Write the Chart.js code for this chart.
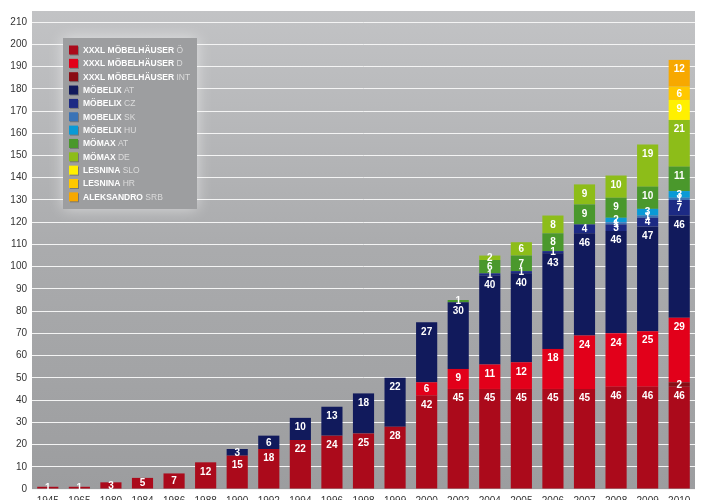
<!DOCTYPE html>
<html>
<head>
<meta charset="utf-8">
<script src="https://cdn.jsdelivr.net/npm/chart.js@4.4.1/dist/chart.umd.min.js"></script>
<style>
  html, body { margin: 0; padding: 0; background: #fff; overflow: hidden; }
  #wrap { width: 702px; height: 500px; }
</style>
</head>
<body>
<div id="wrap"><canvas id="chart"></canvas></div>
<script>
const years = ['1945', '1965', '1980', '1984', '1986', '1988', '1990', '1992', '1994', '1996', '1998',
  '1999', '2000', '2002', '2004', '2005', '2006', '2007', '2008', '2009', '2010'];

const _ = null;
// stacking order, bottom to top
const xxxlOe = [1, 1, 3, 5, 7, 12, 15, 18, 22, 24, 25, 28, 42, 45, 45, 45, 45, 45, 46, 46, 46];
const xxxlInt = [_, _, _, _, _, _, _, _, _, _, _, _, _, _, _, _, _, _, _, _, 2];
const xxxlD = [_, _, _, _, _, _, _, _, _, _, _, _, 6, 9, 11, 12, 18, 24, 24, 25, 29];
const moebelixAt = [_, _, _, _, _, _, 3, 6, 10, 13, 18, 22, 27, 30, 40, 40, 43, 46, 46, 47, 46];
const moebelixCz = [_, _, _, _, _, _, _, _, _, _, _, _, _, _, 1, 1, 1, 4, 3, 4, 7];
const moebelixSk = [_, _, _, _, _, _, _, _, _, _, _, _, _, _, _, _, _, _, 1, 1, 1];
const moebelixHu = [_, _, _, _, _, _, _, _, _, _, _, _, _, _, _, _, _, _, 2, 3, 3];
const moemaxAt = [_, _, _, _, _, _, _, _, _, _, _, _, _, 1, 6, 7, 8, 9, 9, 10, 11];
const moemaxDe = [_, _, _, _, _, _, _, _, _, _, _, _, _, _, 2, 6, 8, 9, 10, 19, 21];
const lesninaSlo = [_, _, _, _, _, _, _, _, _, _, _, _, _, _, _, _, _, _, _, _, 9];
const lesninaHr = [_, _, _, _, _, _, _, _, _, _, _, _, _, _, _, _, _, _, _, _, 6];
const aleksandroSrb = [_, _, _, _, _, _, _, _, _, _, _, _, _, _, _, _, _, _, _, _, 12];

const COLORS = {
  oe: '#ab0a1b', d: '#e2001a', int: '#8a0d14',
  mAt: '#111a5c', mCz: '#1c2a84', mSk: '#3a73b6', mHu: '#0a9ad6',
  xAt: '#4a982c', xDe: '#8dbd19',
  slo: '#fff000', hr: '#ffc800', srb: '#f7a800',
};

// legend order as printed: [bold part, light part, color]
const legendItems = [
  ['XXXL MÖBELHÄUSER', 'Ö', COLORS.oe],
  ['XXXL MÖBELHÄUSER', 'D', COLORS.d],
  ['XXXL MÖBELHÄUSER', 'INT', COLORS.int],
  ['MÖBELIX', 'AT', COLORS.mAt],
  ['MÖBELIX', 'CZ', COLORS.mCz],
  ['MOBELIX', 'SK', COLORS.mSk],
  ['MÖBELIX', 'HU', COLORS.mHu],
  ['MÖMAX', 'AT', COLORS.xAt],
  ['MÖMAX', 'DE', COLORS.xDe],
  ['LESNINA', 'SLO', COLORS.slo],
  ['LESNINA', 'HR', COLORS.hr],
  ['ALEKSANDRO', 'SRB', COLORS.srb],
];

const FONT = '"Liberation Sans", Arial, Helvetica, sans-serif';

const plotBackground = {
  id: 'plotBackground',
  beforeDraw(chart) {
    const { ctx, chartArea: a } = chart;
    const g = ctx.createLinearGradient(0, a.top, 0, a.bottom);
    g.addColorStop(0, '#c2c3c5');
    g.addColorStop(0.5, '#aaabad');
    g.addColorStop(1, '#9c9d9f');
    ctx.save();
    ctx.fillStyle = g;
    ctx.fillRect(a.left, a.top, a.right - a.left, a.bottom - a.top);
    ctx.restore();
  },
};

const segmentLabels = {
  id: 'segmentLabels',
  afterDatasetsDraw(chart) {
    const ctx = chart.ctx;
    ctx.save();
    ctx.font = 'bold 10px ' + FONT;
    ctx.fillStyle = '#fff';
    ctx.textAlign = 'center';
    ctx.textBaseline = 'middle';
    chart.data.datasets.forEach((ds, i) => {
      chart.getDatasetMeta(i).data.forEach((bar, j) => {
        const v = ds.data[j];
        if (v == null) return;
        const h = bar.base - bar.y;
        const y = h > 18 ? bar.y + 9 : bar.y + h / 2;
        ctx.fillText(String(v), bar.x, y + 0.5);
      });
    });
    ctx.restore();
  },
};

const boxLegend = {
  id: 'boxLegend',
  afterDraw(chart) {
    const { ctx, chartArea: a } = chart;
    const x = a.left + 31, y = a.top + 27, w = 134, h = 171;
    ctx.save();
    ctx.shadowColor = 'rgba(255,255,255,0.55)';
    ctx.shadowBlur = 14;
    ctx.fillStyle = '#9d9ea0';
    ctx.fillRect(x, y, w, h);
    ctx.shadowColor = 'transparent';
    ctx.shadowBlur = 0;
    ctx.textBaseline = 'middle';
    legendItems.forEach(([name, suffix, color], i) => {
      const cy = y + 12.5 + i * 13.35;
      ctx.fillStyle = 'rgba(0,0,0,0.25)';
      ctx.fillRect(x + 7, cy - 4, 9, 9);
      ctx.fillStyle = color;
      ctx.fillRect(x + 6, cy - 5, 9, 9);
      ctx.font = 'bold 8.5px ' + FONT;
      ctx.fillStyle = '#fff';
      ctx.fillText(name, x + 20, cy);
      const nw = ctx.measureText(name + ' ').width;
      ctx.font = '8.5px ' + FONT;
      ctx.fillStyle = '#dcdcdc';
      ctx.fillText(suffix, x + 20 + nw, cy);
    });
    ctx.restore();
  },
};

const mk = (label, data, color) => ({ label, data, backgroundColor: color, borderWidth: 0 });

new Chart(document.getElementById('chart'), {
  type: 'bar',
  data: {
    labels: years,
    datasets: [
      mk('XXXL MÖBELHÄUSER Ö', xxxlOe, COLORS.oe),
      mk('XXXL MÖBELHÄUSER INT', xxxlInt, COLORS.int),
      mk('XXXL MÖBELHÄUSER D', xxxlD, COLORS.d),
      mk('MÖBELIX AT', moebelixAt, COLORS.mAt),
      mk('MÖBELIX CZ', moebelixCz, COLORS.mCz),
      mk('MOBELIX SK', moebelixSk, COLORS.mSk),
      mk('MÖBELIX HU', moebelixHu, COLORS.mHu),
      mk('MÖMAX AT', moemaxAt, COLORS.xAt),
      mk('MÖMAX DE', moemaxDe, COLORS.xDe),
      mk('LESNINA SLO', lesninaSlo, COLORS.slo),
      mk('LESNINA HR', lesninaHr, COLORS.hr),
      mk('ALEKSANDRO SRB', aleksandroSrb, COLORS.srb),
    ],
  },
  options: {
    responsive: true,
    maintainAspectRatio: false,
    animation: false,
    layout: { padding: { top: 8, right: 7, left: 0, bottom: 0 } },
    datasets: { bar: { barPercentage: 0.67, categoryPercentage: 1 } },
    plugins: { legend: { display: false }, tooltip: { enabled: false } },
    scales: {
      x: {
        stacked: true,
        grid: { display: false, drawTicks: false },
        border: { display: false },
        ticks: { color: '#333', font: { family: FONT, size: 10 }, padding: 6, maxRotation: 0, autoSkip: false },
        afterFit(scale) { scale.height = 11; },
      },
      y: {
        stacked: true,
        min: 0,
        max: 215,
        border: { display: false },
        grid: { color: '#f4f4f4', lineWidth: 1, drawTicks: false },
        ticks: { stepSize: 10, includeBounds: false, color: '#333', font: { family: FONT, size: 10 }, padding: 5 },
        afterFit(scale) { scale.width = 32; },
      },
    },
  },
  plugins: [plotBackground, segmentLabels, boxLegend],
});
</script>
</body>
</html>
